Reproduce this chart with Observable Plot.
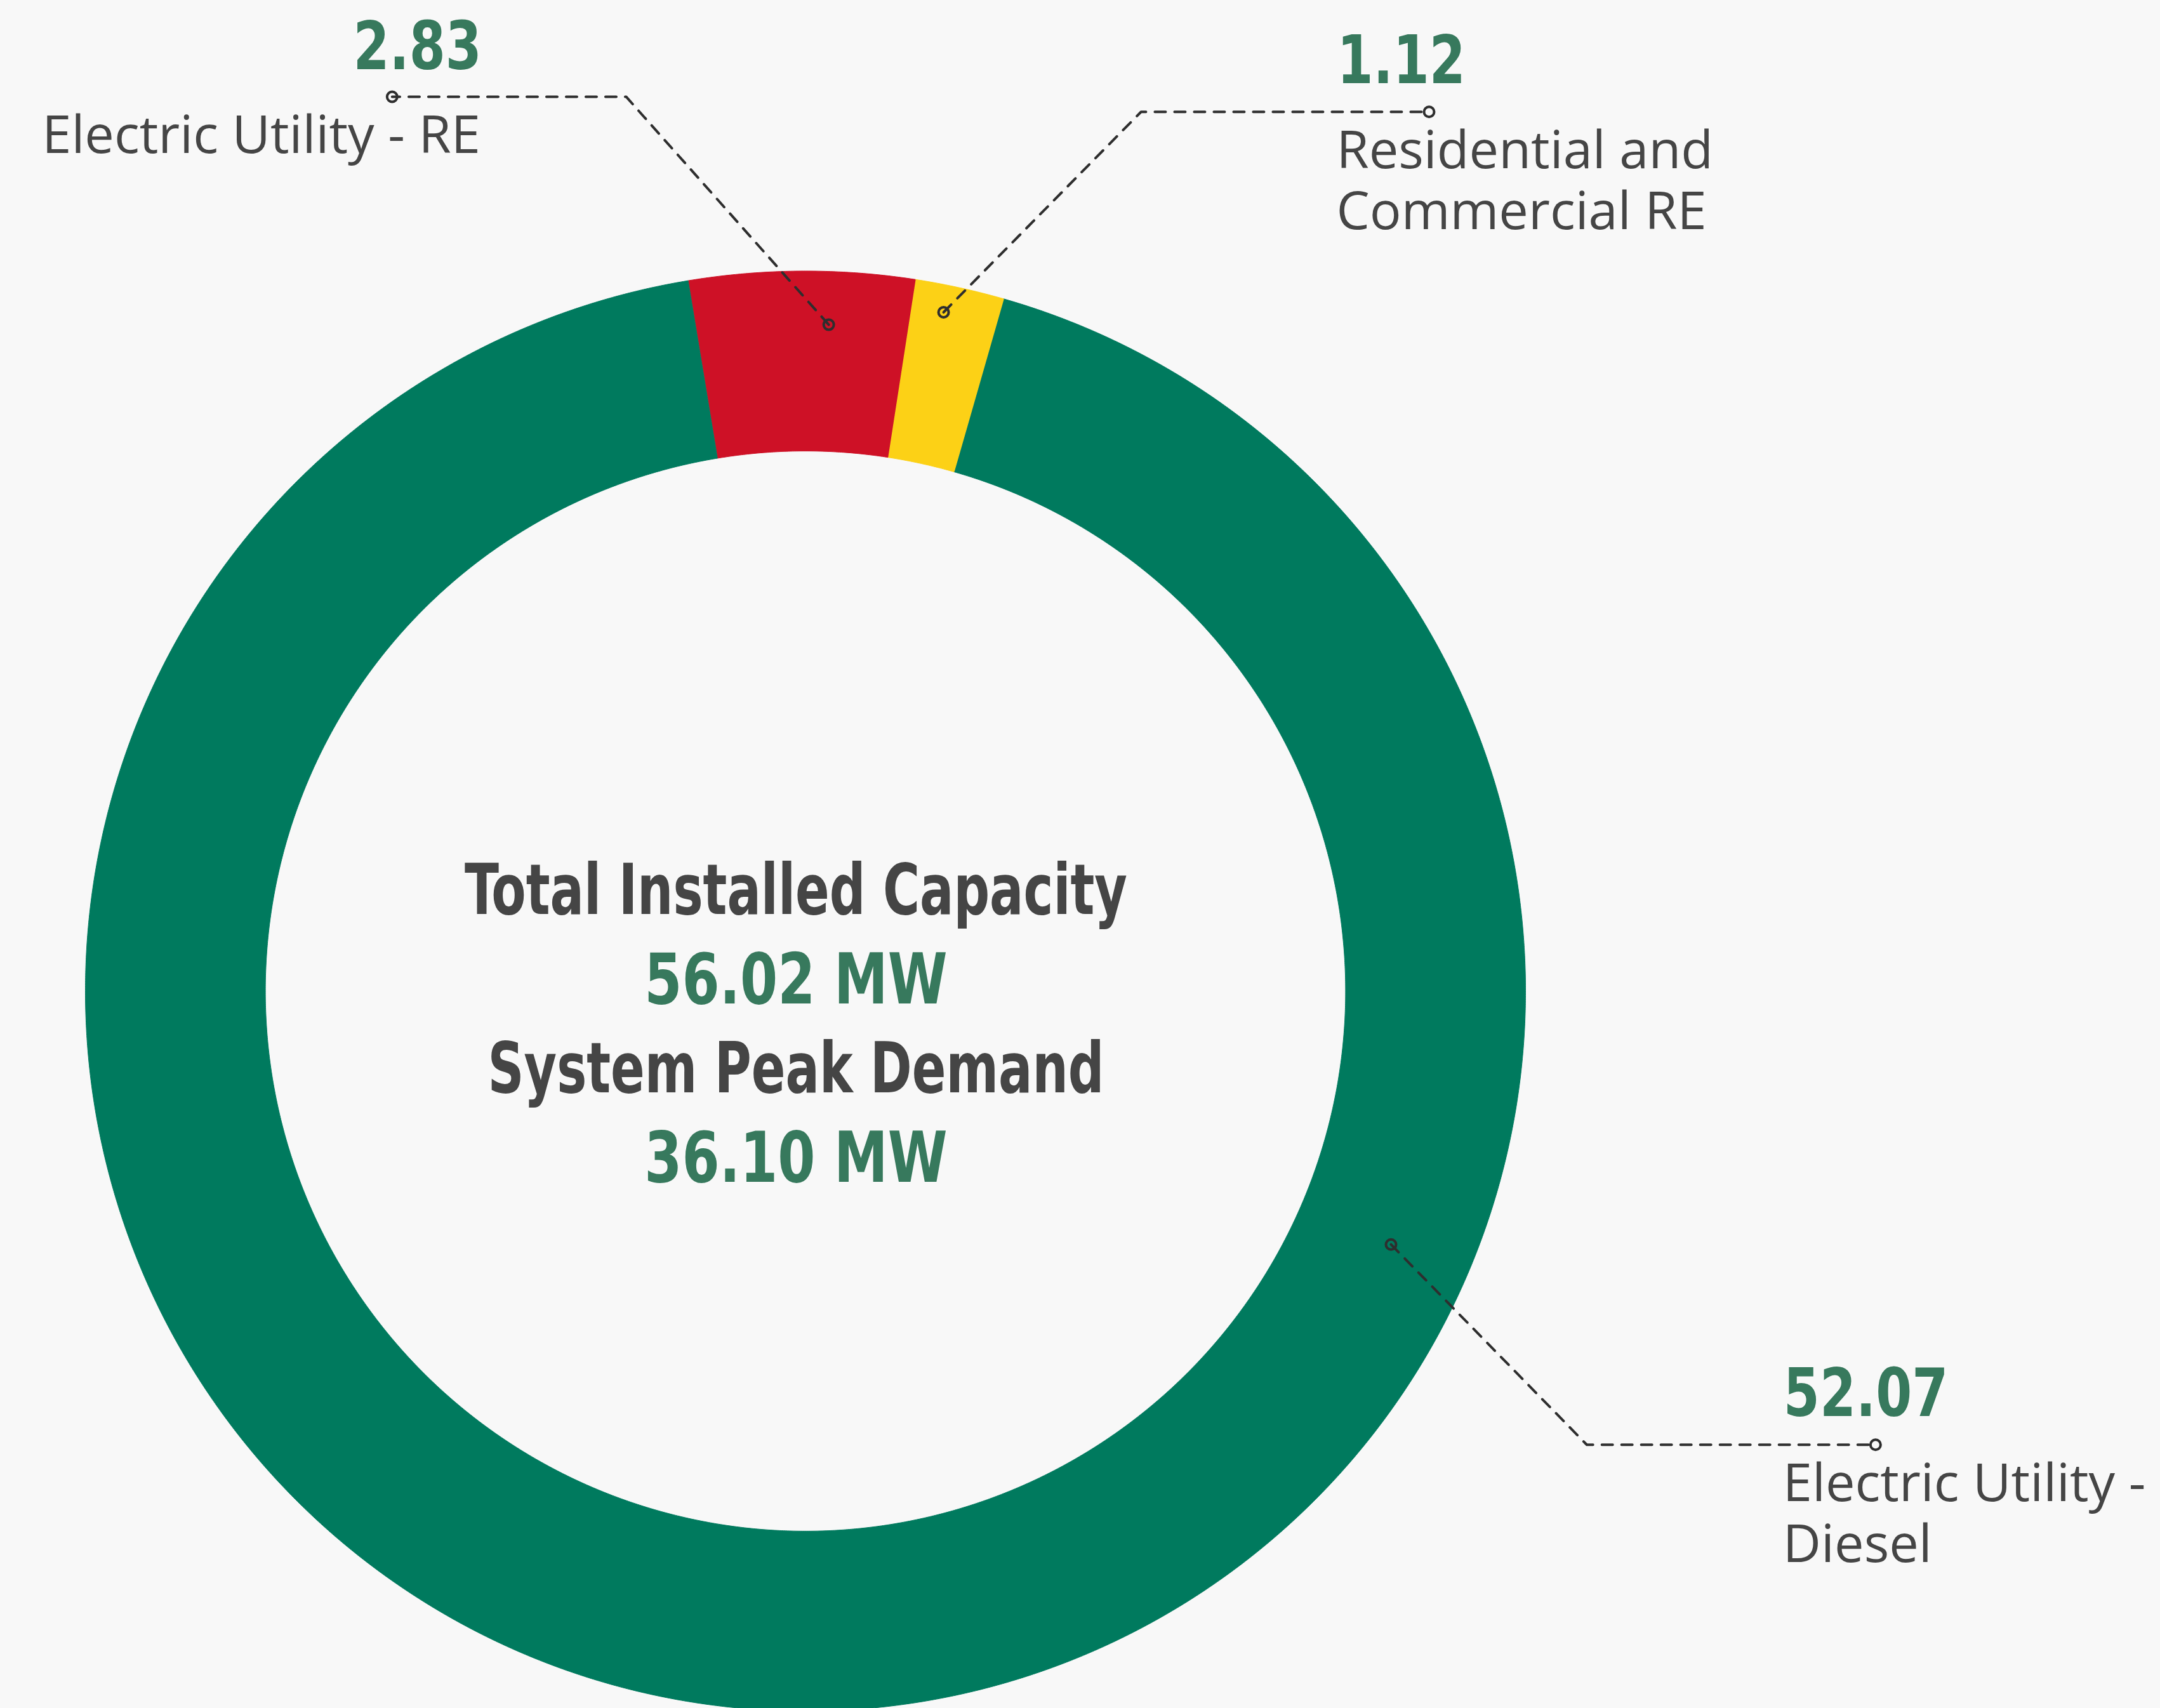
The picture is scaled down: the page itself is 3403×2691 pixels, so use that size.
<!DOCTYPE html>
<html>
<head>
<meta charset="utf-8">
<script src="https://cdn.jsdelivr.net/npm/d3@7"></script>
<script src="https://cdn.jsdelivr.net/npm/@observablehq/plot@0.6"></script>
<style>
  html, body { margin: 0; padding: 0; background: #f8f8f8; overflow: hidden; }
  #chart svg { display: block; }
</style>
</head>
<body>
<div id="chart"></div>
<script>
// ---------- data ----------
const categories = ["Electric Utility - RE", "Residential and Commercial RE", "Electric Utility - Diesel"];
const labelText = ["Electric Utility - RE", "Residential and\nCommercial RE", "Electric Utility -\nDiesel"];
const capacityMW = [2.83, 1.12, 52.07];
const valueLabels = ["2.83", "1.12", "52.07"];
const sliceColors = ["#ce1126", "#fcd116", "#007a5e"];
const centerTitles = ["Total Installed Capacity", "System Peak Demand"];
const centerValues = ["56.02 MW", "36.10 MW"];

// ---------- annotation layout (units of outer radius, y up, origin = ring centre) ----------
const anchorAngleDeg = [2.0, 11.5, 113.4];
const anchorRadius = [0.926, 0.962, 0.886];
const elbowX = [-0.249, 0.466, 1.085];
const elbowY = [1.242, 1.221, -0.630];
const endX = [-0.574, 0.866, 1.486];
const labelSide = ["left", "right", "right"];

// ---------- page layout ----------
const W = 3403, H = 2691;
const CX = 1268.5, CY = 1561, R = 1134.5;
const INNER = 0.75;
const START_DEG = -9.38;

const toRad = d => d * Math.PI / 180;
const startRad = toRad(START_DEG);
const arcs = d3.pie().sort(null).startAngle(startRad).endAngle(startRad + 2 * Math.PI)(capacityMW);

const ring = arcs.flatMap((p, i) => {
  const n = Math.max(16, Math.ceil((p.endAngle - p.startAngle) / (Math.PI / 900)));
  const angles = d3.range(n + 1).map(k => p.startAngle + (p.endAngle - p.startAngle) * k / n);
  const outer = angles.map(a => ({key: categories[i], x: Math.sin(a), y: Math.cos(a)}));
  const inner = angles.slice().reverse().map(a => ({key: categories[i], x: INNER * Math.sin(a), y: INNER * Math.cos(a)}));
  return outer.concat(inner);
});

const anchors = categories.map((c, i) => ({
  key: c,
  x: anchorRadius[i] * Math.sin(toRad(anchorAngleDeg[i])),
  y: anchorRadius[i] * Math.cos(toRad(anchorAngleDeg[i]))
}));
const ends = categories.map((c, i) => ({key: c, x: endX[i], y: elbowY[i], side: labelSide[i], value: valueLabels[i], label: labelText[i]}));
const leaders = categories.flatMap((c, i) => [
  {key: c, x: anchors[i].x, y: anchors[i].y},
  {key: c, x: elbowX[i], y: elbowY[i]},
  {key: c, x: endX[i], y: elbowY[i]}
]);

const centerLines = [
  {text: centerTitles[0], kind: "title", row: 0},
  {text: centerValues[0], kind: "value", row: 1},
  {text: centerTitles[1], kind: "title", row: 2},
  {text: centerValues[1], kind: "value", row: 3}
];
const LINE0 = 0.107, LINE_STEP = 0.124;
centerLines.forEach(d => { d.x = 0; d.y = LINE0 - d.row * LINE_STEP; });

const NUM_FONT = "'DejaVu Sans Condensed', 'DejaVu Sans', sans-serif";
const LABEL_FONT = "'Open Sans', 'Noto Sans', sans-serif";
const GREEN_TEXT = "#37795d";
const GRAY_TEXT = "#454545";

const left = ends.filter(d => d.side === "left");
const right = ends.filter(d => d.side === "right");

const chart = Plot.plot({
  width: W,
  height: H,
  margin: 0,
  style: {background: "#f8f8f8"},
  x: {domain: [-CX / R, (W - CX) / R], axis: null},
  y: {domain: [-(H - CY) / R, CY / R], axis: null},
  color: {type: "ordinal", domain: categories, range: sliceColors},
  marks: [
    Plot.line(ring, {x: "x", y: "y", z: "key", fill: "key", stroke: "key", strokeWidth: 1, curve: "linear"}),
    Plot.line(leaders, {x: "x", y: "y", z: "key", stroke: "#2e2e2e", strokeWidth: 4, strokeDasharray: "17,14", curve: "linear"}),
    Plot.dot(anchors, {x: "x", y: "y", r: 8, stroke: "#2e2e2e", strokeWidth: 4, fill: "none"}),
    Plot.dot(ends, {x: "x", y: "y", r: 8, stroke: "#2e2e2e", strokeWidth: 4, fill: "none"}),
    // value labels
    Plot.text(left, {x: "x", y: "y", text: "value", textAnchor: "end", lineAnchor: "bottom", dx: 141, dy: -43,
      fontFamily: NUM_FONT, fontWeight: "bold", fontSize: 106, fill: GREEN_TEXT}),
    Plot.text(right, {x: "x", y: "y", text: "value", textAnchor: "start", lineAnchor: "bottom", dx: -145, dy: -45,
      fontFamily: NUM_FONT, fontWeight: "bold", fontSize: 106, fill: GREEN_TEXT}),
    // category labels
    Plot.text(left, {x: "x", y: "y", text: "label", textAnchor: "end", lineAnchor: "top", lineHeight: 1.16, dx: 139, dy: 20,
      fontFamily: LABEL_FONT, fontSize: 83, fontWeight: 500, fill: GRAY_TEXT}),
    Plot.text(right, {x: "x", y: "y", text: "label", textAnchor: "start", lineAnchor: "top", lineHeight: 1.16, dx: -146, dy: 20,
      fontFamily: LABEL_FONT, fontSize: 83, fontWeight: 500, fill: GRAY_TEXT}),
    // centre text
    Plot.text(centerLines.filter(d => d.kind === "title"), {x: "x", y: "y", text: "text", lineAnchor: "bottom", dx: -15,
      fontFamily: NUM_FONT, fontWeight: "bold", fontSize: 110, fill: GRAY_TEXT}),
    Plot.text(centerLines.filter(d => d.kind === "value"), {x: "x", y: "y", text: "text", lineAnchor: "bottom", dx: -15,
      fontFamily: NUM_FONT, fontWeight: "bold", fontSize: 110, fill: GREEN_TEXT})
  ]
});

// condense the bold display type (DIN-like look) by squeezing glyphs horizontally about their anchor
const squeezeFor = new Map([
  ...valueLabels.map(t => [t, 0.86]),
  ...centerTitles.map(t => [t, 0.80]),
  ...centerValues.map(t => [t, 0.86])
]);
chart.querySelectorAll("text").forEach(el => {
  const s = squeezeFor.get(el.textContent.trim());
  if (s === undefined) return;
  let t = el.getAttribute("transform");
  if (!t) {
    const x = el.getAttribute("x") || 0, y = el.getAttribute("y") || 0;
    t = `translate(${x},${y})`;
    el.removeAttribute("x");
    el.removeAttribute("y");
  }
  el.setAttribute("transform", `${t} scale(${s},1)`);
});

document.getElementById("chart").appendChild(chart);
</script>
</body>
</html>
